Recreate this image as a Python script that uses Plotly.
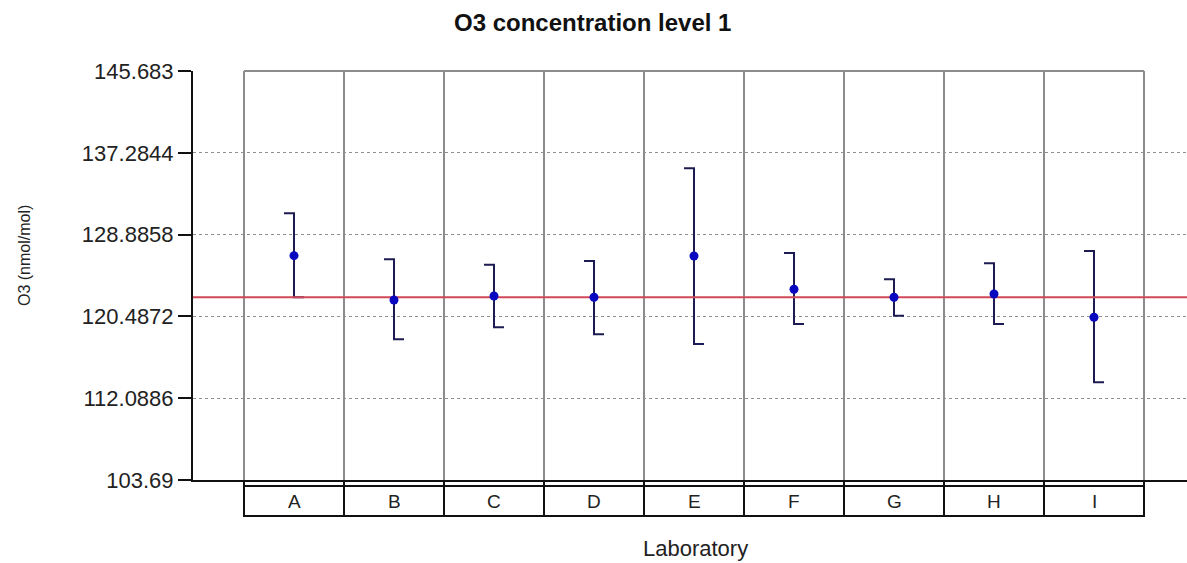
import plotly.graph_objects as go

# ---- data ----
labs = ["A", "B", "C", "D", "E", "F", "G", "H", "I"]
means = [126.72, 122.17, 122.58, 122.45, 126.69, 123.27, 122.45, 122.79, 120.40]
upper = [131.07, 126.35, 125.80, 126.17, 135.69, 127.00, 124.30, 125.94, 127.20]
lower = [122.45, 118.13, 119.37, 118.65, 117.65, 119.71, 120.56, 119.71, 113.72]
ref_value = 122.45
y_tick_vals = [103.69, 112.0886, 120.4872, 128.8858, 137.2844, 145.683]
y_tick_text = ["103.69", "112.0886", "120.4872", "128.8858", "137.2844", "145.683"]

# ---- layout constants ----
W, H = 1187, 563
ML, MR, MT, MB = 193, 0, 71, 83
X_RANGE = [-1.01, 8.93]
Y_RANGE = [y_tick_vals[0], y_tick_vals[-1]]
CAP = 0.1
plot_h = H - MT - MB
plot_w = W - ML - MR


def py(pix):  # pixel y -> paper y
    return (H - MB - pix) / plot_h


def px(pix):  # pixel x -> paper x
    return (pix - ML) / plot_w


xs = list(range(len(labs)))

# error bar path: top cap to the left, bottom cap to the right
ex, ey = [], []
for i, hi, lo in zip(xs, upper, lower):
    ex += [i - CAP, i, i, i + CAP, None]
    ey += [hi, hi, lo, lo, None]

fig = go.Figure()
fig.add_trace(go.Scatter(x=ex, y=ey, mode="lines",
                         line=dict(color="#1c1c52", width=2),
                         hoverinfo="skip", showlegend=False))
fig.add_trace(go.Scatter(x=X_RANGE, y=[ref_value, ref_value], mode="lines",
                         line=dict(color="#d04858", width=2),
                         hoverinfo="skip", showlegend=False))
fig.add_trace(go.Scatter(x=xs, y=means, mode="markers",
                         marker=dict(color="#0808c0", size=9),
                         showlegend=False))

shapes = []
n = len(labs)
# gray category grid
for k in range(n + 1):
    shapes.append(dict(type="line", xref="x", yref="paper", x0=k - 0.5, x1=k - 0.5,
                       y0=0, y1=1, line=dict(color="#8c8c8c", width=2), layer="between"))
shapes.append(dict(type="line", xref="x", yref="paper", x0=-0.5, x1=n - 0.5,
                   y0=1, y1=1, line=dict(color="#8c8c8c", width=2), layer="between"))
# category table below
shapes.append(dict(type="rect", xref="x", yref="paper", x0=-0.5, x1=n - 0.5,
                   y0=py(516), y1=py(486), line=dict(color="#111111", width=2),
                   fillcolor="rgba(0,0,0,0)", layer="above"))
for k in range(n + 1):
    shapes.append(dict(type="line", xref="x", yref="paper", x0=k - 0.5, x1=k - 0.5,
                       y0=py(516), y1=0, line=dict(color="#111111", width=2), layer="above"))

annotations = []
for i, lab in zip(xs, labs):
    annotations.append(dict(x=i, y=py(501), xref="x", yref="paper", text=lab,
                            showarrow=False, xanchor="center", yanchor="middle",
                            font=dict(family="Liberation Sans", size=19, color="#222222")))
annotations.append(dict(x=px(592), y=py(23), xref="paper", yref="paper",
                        text="<b>O3 concentration level 1</b>", showarrow=False,
                        xanchor="center", yanchor="middle",
                        font=dict(family="Liberation Sans", size=24, color="#111111")))
annotations.append(dict(x=px(695), y=py(548), xref="paper", yref="paper",
                        text="Laboratory", showarrow=False,
                        xanchor="center", yanchor="middle",
                        font=dict(family="Liberation Sans", size=22, color="#222222")))
annotations.append(dict(x=px(24), y=py(256), xref="paper", yref="paper",
                        text="O3 (nmol/mol)", showarrow=False, textangle=-90,
                        xanchor="center", yanchor="middle",
                        font=dict(family="Liberation Sans", size=16, color="#222222")))

fig.update_layout(
    width=W, height=H, autosize=False,
    margin=dict(l=ML, r=MR, t=MT, b=MB, pad=0),
    paper_bgcolor="white", plot_bgcolor="white",
    shapes=shapes, annotations=annotations,
    xaxis=dict(range=X_RANGE, showgrid=False, zeroline=False, showticklabels=False,
               ticks="", showline=True, linecolor="#111111", linewidth=2, fixedrange=True),
    yaxis=dict(range=Y_RANGE, tickvals=y_tick_vals, ticktext=y_tick_text,
               showgrid=True, gridcolor="#909090", griddash="dot", gridwidth=1,
               zeroline=False, showline=True, linecolor="#111111", linewidth=2,
               ticks="outside", ticklen=13, tickwidth=2, tickcolor="#111111",
               tickfont=dict(family="Liberation Sans", size=22, color="#222222"),
               fixedrange=True),
)

fig.write_html("out.html", config={"displayModeBar": False},
               post_script="document.body.style.margin='0';document.body.style.overflow='hidden';")
